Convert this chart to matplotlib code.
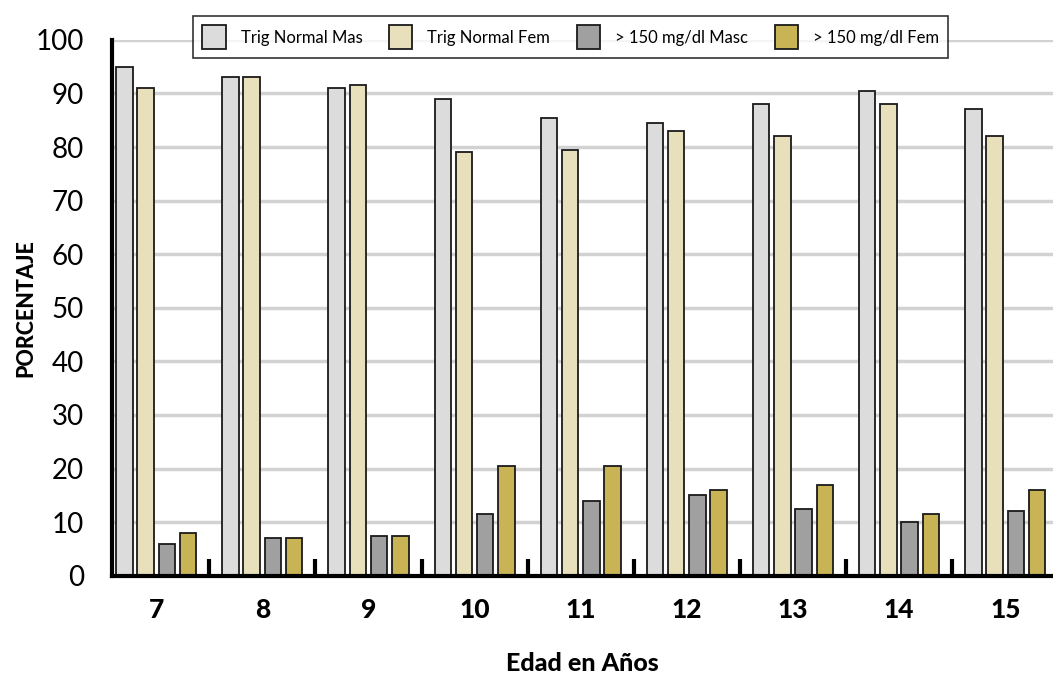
import matplotlib.pyplot as plt
import numpy as np
from matplotlib.ticker import FixedLocator

edades = ['7', '8', '9', '10', '11', '12', '13', '14', '15']
normal_masc = [95, 93, 91, 89, 85.5, 84.5, 88, 90.5, 87]
normal_fem = [91, 93, 91.5, 79, 79.5, 83, 82, 88, 82]
alto_masc = [6, 7, 7.5, 11.5, 14, 15, 12.5, 10, 12]
alto_fem = [8, 7, 7.5, 20.5, 20.5, 16, 17, 11.5, 16]

series = [normal_masc, normal_fem, alto_masc, alto_fem]
nombres = ['Trig Normal Mas', 'Trig Normal Fem', '> 150 mg/dl Masc', '> 150 mg/dl Fem']
colores = ['#dcdcdc', '#e8e0bb', '#a0a0a0', '#c8b455']

plt.rcParams['font.family'] = ['Lato', 'DejaVu Sans']

fig = plt.figure(figsize=(10.53, 6.75), dpi=100)
ax = fig.add_axes([0.106, 0.147, 0.894, 0.794])

x = np.arange(len(edades))
offsets = [-0.3, -0.1, 0.1, 0.3]
for vals, off, nom, col in zip(series, offsets, nombres, colores):
    ax.bar(x + off, vals, width=0.155, color=col, edgecolor='#1a1a1a',
           linewidth=1.3, label=nom, zorder=3)

ax.set_ylim(0, 100)
ax.set_xlim(-0.42, 8.45)
ax.set_yticks(range(0, 101, 10))
ax.yaxis.grid(True, color='#d2d2d2', linewidth=2.5, zorder=0)
ax.set_axisbelow(True)

ax.set_xticks(x)
ax.set_xticklabels(edades, fontsize=19, fontweight='black')
ax.tick_params(axis='x', length=0, pad=16)
ax.tick_params(axis='y', length=0, pad=20, labelsize=20)

# marcas entre grupos
ax.xaxis.set_minor_locator(FixedLocator(x[:-1] + 0.5))
ax.tick_params(axis='x', which='minor', direction='in', length=12, width=3, color='black')

for s in ['top', 'right']:
    ax.spines[s].set_visible(False)
for s in ['left', 'bottom']:
    ax.spines[s].set_linewidth(3)
    ax.spines[s].set_zorder(4)

ax.set_xlabel('Edad en Años', fontsize=18, fontweight='black')
ax.set_ylabel('PORCENTAJE', fontsize=15.5, fontweight='black')
ax.xaxis.set_label_coords(0.5, -0.142)
ax.yaxis.set_label_coords(-0.080, 0.5)

leg = fig.legend(loc='center', bbox_to_anchor=(0.542, 0.945), ncol=4,
                 fontsize=12, frameon=True, fancybox=False, edgecolor='black',
                 handlelength=1.4, handleheight=1.8, columnspacing=1.6,
                 handletextpad=0.9, borderpad=0.55)
leg.get_frame().set_linewidth(1.2)

fig.savefig('out.png', dpi=100)
